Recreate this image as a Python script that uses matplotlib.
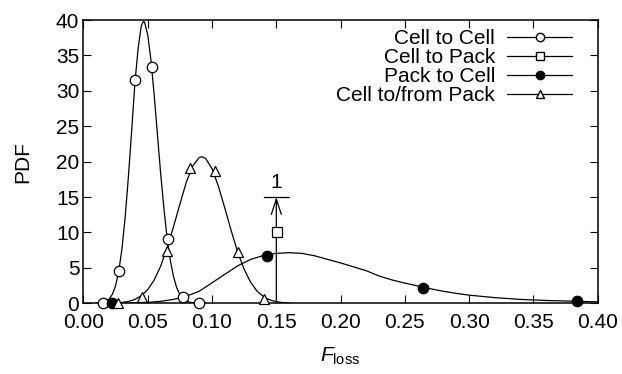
import matplotlib
matplotlib.use("Agg")
from matplotlib import pyplot as plt
from matplotlib.lines import Line2D
from matplotlib.patches import FancyArrowPatch

# measured points (markers)
cc_x = [0.0152, 0.0279, 0.040, 0.053, 0.066, 0.0777, 0.090]
cc_y = [0.0, 4.6, 31.5, 33.3, 9.1, 0.9, 0.0]

cp_x = [0.1503]
cp_y = [10.0]

pc_x = [0.0224, 0.1426, 0.264, 0.3838]
pc_y = [0.0, 6.7, 2.2, 0.3]

cfp_x = [0.027, 0.0453, 0.0647, 0.0829, 0.1023, 0.1205, 0.1405]
cfp_y = [0.0, 0.9, 7.4, 19.1, 18.7, 7.2, 0.6]

# fitted curves
cc_fit_x = [0.010, 0.0125, 0.015, 0.0175, 0.020, 0.0225, 0.025, 0.0275, 0.030,
            0.0325, 0.035, 0.0375, 0.040, 0.0425, 0.045, 0.0466, 0.0475, 0.050,
            0.0525, 0.055, 0.0575, 0.060, 0.0625, 0.065, 0.0675, 0.070, 0.0725,
            0.075, 0.0775, 0.080, 0.0825, 0.085, 0.090, 0.095]
cc_fit_y = [0.01, 0.04, 0.11, 0.27, 0.61, 1.29, 2.5, 4.6, 7.8,
            12.3, 18.0, 24.4, 31.1, 36.0, 39.2, 39.8, 39.7, 37.9,
            34.3, 29.4, 23.9, 18.4, 13.5, 9.3, 6.1, 3.8, 2.2,
            1.25, 0.67, 0.33, 0.16, 0.07, 0.01, 0.0]

cfp_fit_x = [0.020, 0.025, 0.030, 0.035, 0.040, 0.045, 0.050, 0.055, 0.060,
             0.065, 0.070, 0.075, 0.080, 0.085, 0.090, 0.092, 0.095, 0.100,
             0.105, 0.110, 0.115, 0.120, 0.125, 0.130, 0.135, 0.140, 0.145,
             0.150, 0.155, 0.160]
cfp_fit_y = [0.02, 0.05, 0.12, 0.26, 0.55, 1.07, 1.94, 3.29, 5.24,
             7.78, 10.8, 14.0, 17.1, 19.4, 20.6, 20.7, 20.45, 19.0,
             16.5, 13.4, 10.2, 7.2, 4.8, 2.98, 1.73, 0.94, 0.48,
             0.23, 0.10, 0.04]

pc_fit_x = [0.02, 0.03, 0.04, 0.05, 0.06, 0.07, 0.08, 0.09, 0.10, 0.11, 0.12,
            0.13, 0.14, 0.15, 0.16, 0.17, 0.18, 0.19, 0.20, 0.21, 0.22, 0.23,
            0.24, 0.25, 0.26, 0.27, 0.28, 0.29, 0.30, 0.32, 0.34, 0.36, 0.38, 0.40]
pc_fit_y = [0.0, 0.01, 0.04, 0.12, 0.28, 0.55, 1.0, 1.7, 2.9, 4.1, 5.3,
            6.2, 6.75, 7.05, 7.15, 7.05, 6.7, 6.2, 5.7, 5.15, 4.6, 3.85,
            3.3, 2.85, 2.45, 2.05, 1.7, 1.4, 1.15, 0.8, 0.55, 0.4, 0.3, 0.2]

# delta spike for Cell to Pack
spike_x = 0.15
spike_top = 15
spike_label = '1'

labels = ['Cell to Cell', 'Cell to Pack', 'Pack to Cell', 'Cell to/from Pack']

plt.rcParams['font.family'] = ['Liberation Sans', 'DejaVu Sans']
plt.rcParams['font.size'] = 15
plt.rcParams['mathtext.fontset'] = 'custom'
plt.rcParams['mathtext.rm'] = 'Liberation Sans'
plt.rcParams['mathtext.it'] = 'Liberation Sans:italic'

fig = plt.figure(figsize=(6.22, 3.74), dpi=100)
ax = fig.add_axes([0.1342, 0.189, 0.961 - 0.1342, 0.9465 - 0.189])

lw = 0.9
ms = 7.5
ax.plot(cc_fit_x, cc_fit_y, color='k', lw=lw)
ax.plot(cfp_fit_x, cfp_fit_y, color='k', lw=lw)
ax.plot(pc_fit_x, pc_fit_y, color='k', lw=lw)

# spike with arrow and bar
arr = FancyArrowPatch((spike_x, 0), (spike_x, spike_top),
                      arrowstyle='->,head_length=0.55,head_width=0.18',
                      mutation_scale=20, color='k', lw=lw, shrinkA=0, shrinkB=0)
ax.add_patch(arr)
ax.plot([0.1407, 0.160], [spike_top, spike_top], color='k', lw=lw)
ax.text(spike_x, spike_top + 0.7, spike_label, ha='center', va='bottom')

ax.plot(cc_x, cc_y, 'o', mfc='white', mec='k', mew=lw, ms=ms, ls='none', clip_on=False, zorder=3)
ax.plot(cp_x, cp_y, 's', mfc='white', mec='k', mew=lw, ms=ms - 0.5, ls='none', clip_on=False, zorder=3)
ax.plot(pc_x, pc_y, 'o', mfc='k', mec='k', mew=lw, ms=ms, ls='none', clip_on=False, zorder=3)
ax.plot(cfp_x, cfp_y, '^', mfc='white', mec='k', mew=lw, ms=ms, ls='none', clip_on=False, zorder=3)

ax.set_xlim(0, 0.40)
ax.set_ylim(0, 40)
ax.set_xticks([0.00, 0.05, 0.10, 0.15, 0.20, 0.25, 0.30, 0.35, 0.40])
ax.set_yticks(range(0, 41, 5))
ax.xaxis.set_major_formatter(matplotlib.ticker.FormatStrFormatter('%.2f'))
ax.tick_params(direction='in', length=5.5, width=0.8, top=True, right=True)
ax.tick_params(axis='x', pad=7)
ax.tick_params(axis='y', pad=3)
for s in ax.spines.values():
    s.set_linewidth(1.1)

ax.set_xlabel(r'$F_{\mathrm{loss}}$', labelpad=10)
ax.set_ylabel('PDF', labelpad=17)

handles = [
    Line2D([], [], color='k', lw=lw, marker='o', mfc='white', mec='k', ms=6),
    Line2D([], [], color='k', lw=lw, marker='s', mfc='white', mec='k', ms=5.5),
    Line2D([], [], color='k', lw=lw, marker='o', mfc='k', mec='k', ms=6),
    Line2D([], [], color='k', lw=lw, marker='^', mfc='white', mec='k', ms=6),
]
ax.legend(handles, labels, loc='upper right', bbox_to_anchor=(0.950, 0.968),
          frameon=False, markerfirst=False, handlelength=3.1, handletextpad=0.6,
          labelspacing=0.0, borderpad=0, borderaxespad=0)

fig.savefig('out.png', dpi=100)
